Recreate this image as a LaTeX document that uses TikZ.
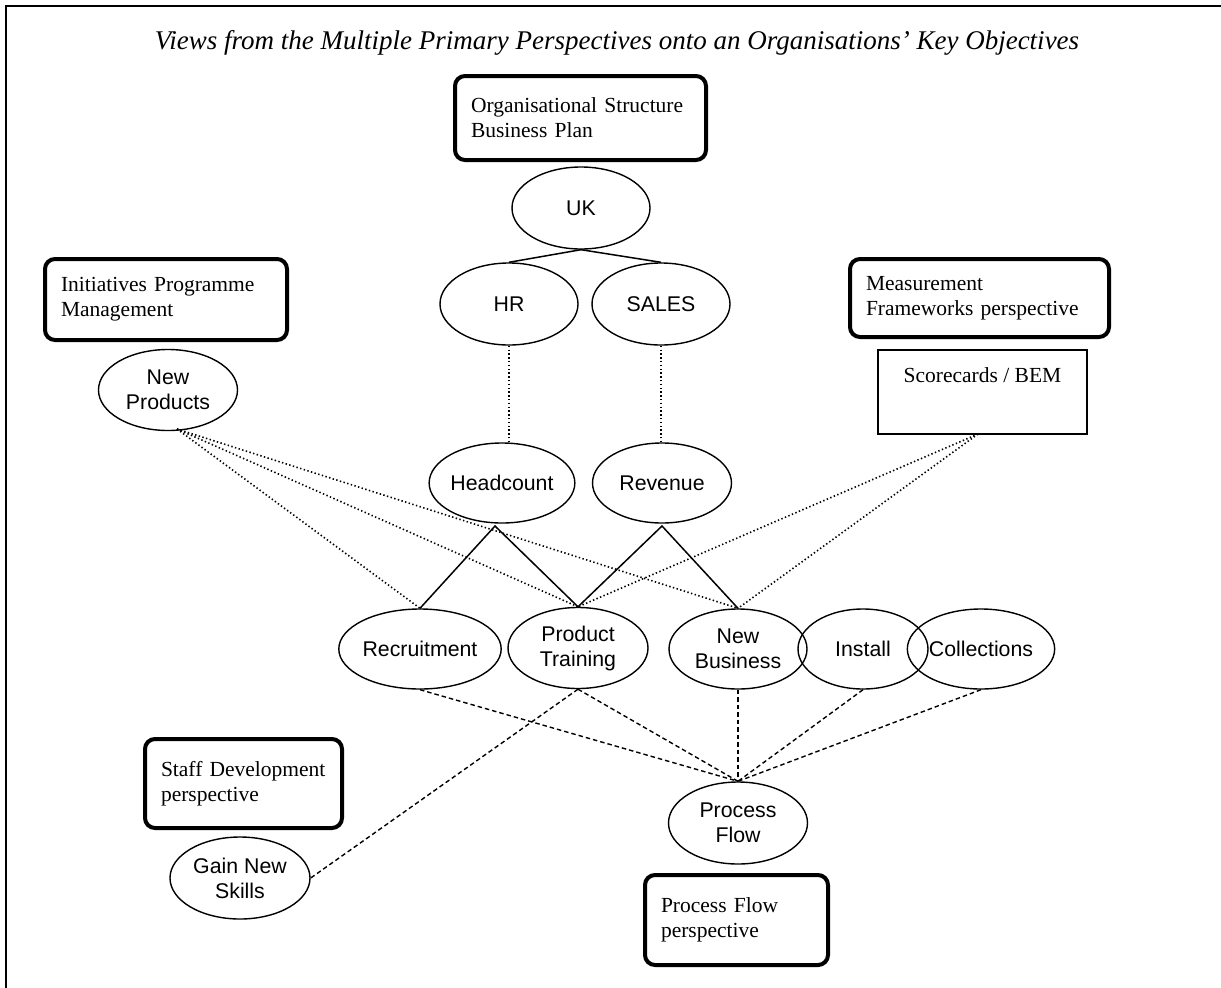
\documentclass[tikz,border=0pt]{standalone}
\usepackage{fontspec}
\setmainfont{Liberation Serif}
\newfontfamily\arialf{Liberation Sans}
\usetikzlibrary{shapes.geometric,calc}
\begin{document}
\begin{tikzpicture}[x=1pt,y=-1pt,
  ell/.style={draw, ellipse, line width=1.4pt, inner sep=0pt, align=center, font=\arialf\fontsize{21.3}{25}\selectfont},
  pbox/.style={draw, rectangle, rounded corners=10pt, line width=4pt, inner sep=0pt, align=left, font=\fontsize{21.5}{25}\selectfont},
  plainbox/.style={draw, rectangle, line width=1.4pt, inner sep=0pt, align=center, font=\fontsize{21.5}{25}\selectfont},
  solidlink/.style={line width=1.5pt},
  dotlink/.style={line width=1.6pt, dash pattern=on 1.4pt off 2.4pt},
  dashlink/.style={line width=1.4pt, dash pattern=on 4.5pt off 3pt},
  frame/.style={line width=2pt}
]
\useasboundingbox (0,0) rectangle (1221,988);
\draw[frame] (6,988) -- (6,6) -- (1221,6);

\node[font=\itshape\fontsize{27}{32}\selectfont, anchor=base] (title) at (617,49)
  {Views from the Multiple Primary Perspectives onto an Organisations’ Key Objectives};

% perspective boxes
\node[pbox, minimum width=251pt, minimum height=84pt, text width=219pt] (org) at (580.5,118) {Organisational Structure\\Business Plan};
\node[pbox, minimum width=242pt, minimum height=81pt, text width=210pt] (ini) at (166,299.5) {Initiatives Programme\\Management};
\node[pbox, minimum width=259pt, minimum height=78pt, text width=227pt] (meas) at (979.5,298) {Measurement\\Frameworks perspective};
\node[pbox, minimum width=197pt, minimum height=89pt, text width=165pt] (staff) at (243.5,783.5) {Staff Development\\perspective};
\node[pbox, minimum width=183pt, minimum height=90pt, text width=151pt] (pfbox) at (736.5,920) {Process Flow\\perspective};

\node[plainbox, minimum width=209pt, minimum height=84pt] (sc) at (982.5,392) {Scorecards / BEM\\[8pt]\mbox{}};

% ellipses
\node[ell, minimum width=138pt, minimum height=82pt] (uk) at (581,208) {UK};
\node[ell, minimum width=138pt, minimum height=82pt] (hr) at (509,304) {HR};
\node[ell, minimum width=138pt, minimum height=82pt] (sales) at (661,304) {SALES};
\node[ell, minimum width=139pt, minimum height=81pt] (np) at (168,390) {New\\Products};
\node[ell, minimum width=139pt, minimum height=80pt] (hc) at (502,483) {Headcount};
\node[ell, minimum width=139pt, minimum height=80pt] (rev) at (662,483) {Revenue};
\node[ell, minimum width=142pt, minimum height=80pt] (rec) at (420,649) {Recruitment};
\node[ell, minimum width=140pt, minimum height=81pt] (pt) at (578,648) {Product\\Training};
\node[ell, minimum width=138pt, minimum height=80pt] (nb) at (738,649) {New\\Business};
\node[ell, minimum width=130pt, minimum height=80pt] (inst) at (863,649) {Install};
\node[ell, minimum width=137pt, minimum height=80pt] (coll) at (981,649) {Collections};
\node[ell, minimum width=139pt, minimum height=82pt] (pf) at (738,823) {Process\\Flow};
\node[ell, minimum width=140pt, minimum height=82pt] (gns) at (240,878) {Gain New\\Skills};

% helper points
\coordinate (hca) at (495,526);
\coordinate (rva) at (662,526);
\coordinate (npb) at (177,429);
\coordinate (scb) at (978,434);

% solid connectors
\draw[solidlink] (uk.south) -- (hr.north);
\draw[solidlink] (uk.south) -- (sales.north);
\draw[solidlink] (rec.north) -- (hca) -- (pt.north);
\draw[solidlink] (pt.north) -- (rva) -- (nb.north);

% dotted connectors
\draw[dotlink] (hr.south) -- (hr.south |- hc.north);
\draw[dotlink] (sales.south) -- (sales.south |- rev.north);
\draw[dotlink] (npb) -- (rec.north);
\draw[dotlink] (npb) -- (pt.north);
\draw[dotlink] (npb) -- (nb.north);
\draw[dotlink] (scb) -- (pt.north);
\draw[dotlink] (scb) -- (nb.north);

% dashed connectors
\draw[dashlink] (rec.south) -- (pf.north);
\draw[dashlink] (pt.south) -- (pf.north);
\draw[dashlink] (nb.south) -- (pf.north);
\draw[dashlink] (inst.south) -- (pf.north);
\draw[dashlink] (coll.south) -- (pf.north);
\draw[dashlink] (pt.south) -- (gns.east);
\end{tikzpicture}
\end{document}
